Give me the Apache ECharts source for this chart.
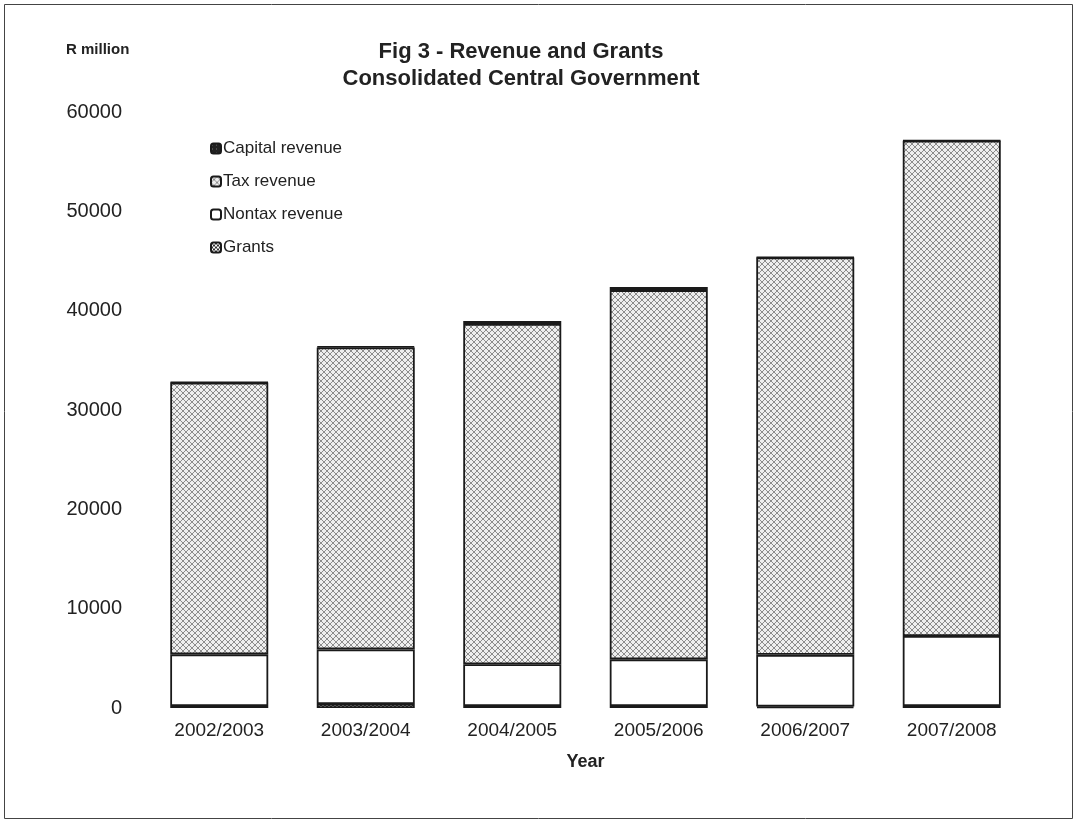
<!DOCTYPE html>
<html>
<head>
<meta charset="utf-8">
<script src="https://cdn.jsdelivr.net/npm/echarts@6/dist/echarts.min.js"></script>
<style>
html,body{margin:0;padding:0;background:#fff;}
#main{width:1078px;height:825px;}
</style>
</head>
<body>
<div id="main"></div>
<script>
// ---- data ----
var years = ['2002/2003', '2003/2004', '2004/2005', '2005/2006', '2006/2007', '2007/2008'];
var grants = [200, 400, 200, 200, 150, 200];
var nontaxRevenue = [5200, 5500, 4200, 4700, 5200, 7050];
var taxRevenue = [27360, 30400, 34270, 37170, 40000, 49850];
var capitalRevenue = [50, 100, 300, 300, 50, 50];
var yTicks = [0, 10000, 20000, 30000, 40000, 50000, 60000];

// ---- patterns (styles) ----
function makePattern(size, draw) {
  var c = document.createElement('canvas');
  c.width = size; c.height = size;
  var ctx = c.getContext('2d');
  draw(ctx, size);
  return { image: c, repeat: 'repeat' };
}
var hatch = makePattern(6, function (ctx, s) {
  ctx.fillStyle = '#eeeeee'; ctx.fillRect(0, 0, s, s);
  ctx.strokeStyle = '#808080'; ctx.lineWidth = 0.9;
  ctx.beginPath();
  ctx.moveTo(0, 0); ctx.lineTo(s, s);
  ctx.moveTo(s, 0); ctx.lineTo(0, s);
  ctx.stroke();
});
var wavy = makePattern(4, function (ctx, s) {
  ctx.fillStyle = '#ffffff'; ctx.fillRect(0, 0, s, s);
  ctx.fillStyle = '#333'; ctx.fillRect(0, 0, 2, 2); ctx.fillRect(2, 2, 2, 2);
});
var dark = makePattern(4, function (ctx, s) {
  ctx.fillStyle = '#222'; ctx.fillRect(0, 0, s, s);
  ctx.fillStyle = '#777'; ctx.fillRect(1, 1, 1, 1);
});

var chart = echarts.init(document.getElementById('main'), null, { renderer: 'canvas' });
var font = '"Liberation Sans", Arial, sans-serif';
var bw = { borderColor: '#1a1a1a', borderWidth: 1.8 };

chart.setOption({
  animation: false,
  backgroundColor: '#fff',
  textStyle: { fontFamily: font },
  title: {
    text: 'Fig 3 - Revenue and Grants\nConsolidated Central Government',
    left: 516, top: 33, textAlign: 'center',
    textStyle: { fontSize: 22, fontWeight: 'bold', color: '#222', lineHeight: 27, fontFamily: font }
  },
  legend: {
    orient: 'vertical', left: 205, top: 135, itemGap: 16,
    itemWidth: 10, itemHeight: 10,
    textStyle: { fontSize: 17, color: '#222', fontFamily: font, padding: [0, 0, 0, -3] },
    data: ['Capital revenue', 'Tax revenue', 'Nontax revenue', 'Grants']
  },
  grid: { left: 146, right: 53, top: 112, bottom: 117, containLabel: false },
  xAxis: {
    type: 'category', data: years,
    axisLine: { show: false }, axisTick: { show: false },
    axisLabel: { fontSize: 19, color: '#222', margin: 13, fontFamily: font },
    name: 'Year', nameLocation: 'middle', nameGap: 45,
    nameTextStyle: { fontSize: 18, fontWeight: 'bold', color: '#222', fontFamily: font }
  },
  yAxis: {
    type: 'value', min: yTicks[0], max: yTicks[yTicks.length - 1], interval: yTicks[1] - yTicks[0],
    axisLine: { show: false }, axisTick: { show: false }, splitLine: { show: false },
    axisLabel: { fontSize: 20, color: '#222', margin: 24, fontFamily: font, formatter: function (v) { return String(v); } }
  },
  graphic: [
    { type: 'rect', shape: { x: 4.5, y: 4.5, width: 1068, height: 814 }, style: { fill: 'none', stroke: '#444', lineWidth: 1 }, silent: true },
    { type: 'text', left: 66, top: 42, style: { text: 'R million', fill: '#222', font: 'bold 15px "Liberation Sans", Arial, sans-serif' } }
  ],
  series: [
    { name: 'Grants', type: 'bar', stack: 's', data: grants, barWidth: 98, itemStyle: Object.assign({ color: wavy }, bw) },
    { name: 'Nontax revenue', type: 'bar', stack: 's', data: nontaxRevenue, itemStyle: Object.assign({ color: '#ffffff' }, bw) },
    { name: 'Tax revenue', type: 'bar', stack: 's', data: taxRevenue, itemStyle: Object.assign({ color: hatch }, bw) },
    { name: 'Capital revenue', type: 'bar', stack: 's', data: capitalRevenue, itemStyle: Object.assign({ color: dark }, bw) }
  ]
});
</script>
</body>
</html>
